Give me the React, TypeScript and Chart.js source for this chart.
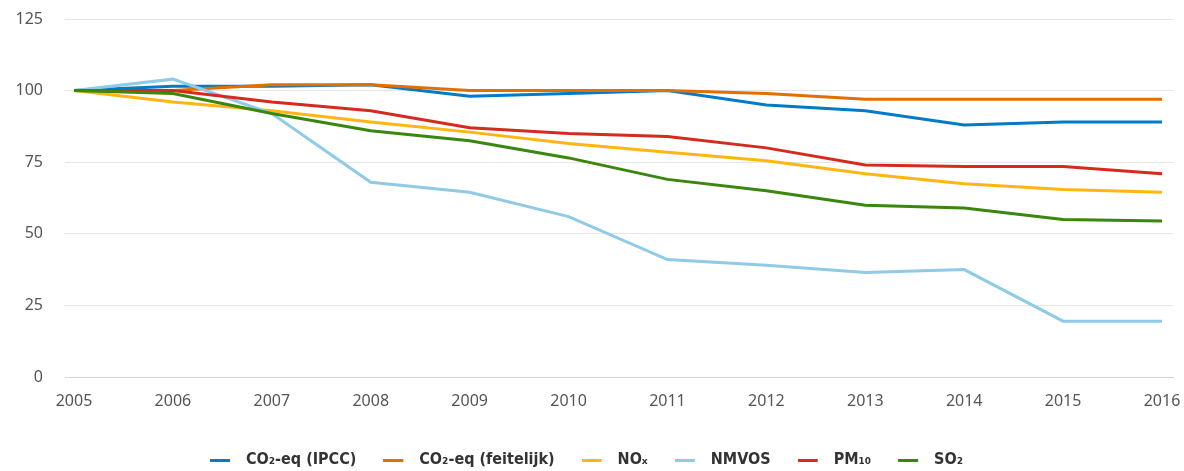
import React, { useEffect, useRef } from "react";
import { Chart, registerables } from "chart.js";

Chart.register(...registerables);

const years = [2005, 2006, 2007, 2008, 2009, 2010, 2011, 2012, 2013, 2014, 2015, 2016];
const co2Ipcc = [100, 101.5, 101.5, 102, 98, 99, 100, 95, 93, 88, 89, 89];
const co2Feitelijk = [100, 100, 102, 102, 100, 100, 100, 99, 97, 97, 97, 97];
const nox = [100, 96, 93, 89, 85.5, 81.5, 78.5, 75.5, 71, 67.5, 65.5, 64.5];
const nmvos = [100, 104, 92, 68, 64.5, 56, 41, 39, 36.5, 37.5, 19.5, 19.5];
const pm10 = [100, 100, 96, 93, 87, 85, 84, 80, 74, 73.5, 73.5, 71];
const so2 = [100, 99, 92, 86, 82.5, 76.5, 69, 65, 60, 59, 55, 54.5];
const yTicks = [0, 25, 50, 75, 100, 125];

const seriesNames = ["CO₂-eq (IPCC)", "CO₂-eq (feitelijk)", "NOₓ", "NMVOS", "PM₁₀", "SO₂"];
const seriesValues = [co2Ipcc, co2Feitelijk, nox, nmvos, pm10, so2];
const seriesColors = ["#007bc7", "#e17000", "#ffb612", "#8fcae7", "#d52b1e", "#39870c"];

function legendSwatch(color: string) {
  const c = document.createElement("canvas");
  c.width = 28;
  c.height = 4;
  const ctx = c.getContext("2d");
  if (ctx) {
    ctx.fillStyle = color;
    ctx.fillRect(0, 1, 20, 3);
  }
  return c;
}

export default function App() {
  const ref = useRef<HTMLCanvasElement | null>(null);
  useEffect(() => {
    document.body.style.margin = "0";
    const canvas = ref.current;
    if (!canvas) return;
    const datasets = seriesNames.map((name, i) => ({
      label: name,
      data: years.map((yr, j) => ({ x: yr, y: seriesValues[i][j] })),
      borderColor: seriesColors[i],
      backgroundColor: seriesColors[i],
      borderWidth: 3,
      pointRadius: 0,
      pointStyle: legendSwatch(seriesColors[i]),
      tension: 0,
      fill: false,
      order: seriesNames.length - i,
    }));
    const tickFont = { family: '"Noto Sans", sans-serif', size: 16 };
    const chart = new Chart(canvas, {
      type: "line",
      data: { datasets },
      options: {
        animation: false,
        responsive: false,
        layout: { padding: { top: 19, right: 11, bottom: -7, left: 0 } },
        plugins: {
          tooltip: { enabled: false },
          legend: {
            position: "bottom",
            labels: {
              usePointStyle: true,
              pointStyleWidth: 28,
              padding: 27,
              color: "#333333",
              font: { family: '"Liberation Sans Narrow", "DejaVu Sans Condensed", "Noto Sans", sans-serif', size: 16, weight: "bold" },
              sort: (a: any, b: any) => a.datasetIndex - b.datasetIndex,
            },
          },
        },
        scales: {
          x: {
            type: "linear",
            min: 2004.909,
            max: 2016.111,
            grid: { display: false, drawTicks: false },
            border: { display: true, color: "#ccd6eb", width: 1 },
            ticks: {
              stepSize: 1,
              includeBounds: false,
              autoSkip: false,
              maxRotation: 0,
              padding: 15,
              color: "#555555",
              font: tickFont,
              callback: (v: any) => (Number.isInteger(v) ? String(v) : ""),
            },
            afterFit: (s: any) => {
              s.height = 48;
              s.paddingLeft = 0;
              s.paddingRight = 0;
            },
          },
          y: {
            min: 0,
            max: 125,
            afterBuildTicks: (s: any) => {
              s.ticks = yTicks.map((v) => ({ value: v }));
            },
            grid: { color: (c: any) => (c.tick && c.tick.value === 0 ? "#ccd6eb" : "#e6e6e6"), drawTicks: false, lineWidth: 1 },
            border: { display: false },
            ticks: { padding: 22, color: "#555555", font: tickFont },
            afterFit: (s: any) => {
              s.width = 65;
              s.paddingTop = 0;
              s.paddingBottom = 0;
            },
          },
        },
      },
    });
    return () => chart.destroy();
  }, []);
  return <canvas ref={ref} width={1184} height={471} style={{ display: "block" }} />;
}
